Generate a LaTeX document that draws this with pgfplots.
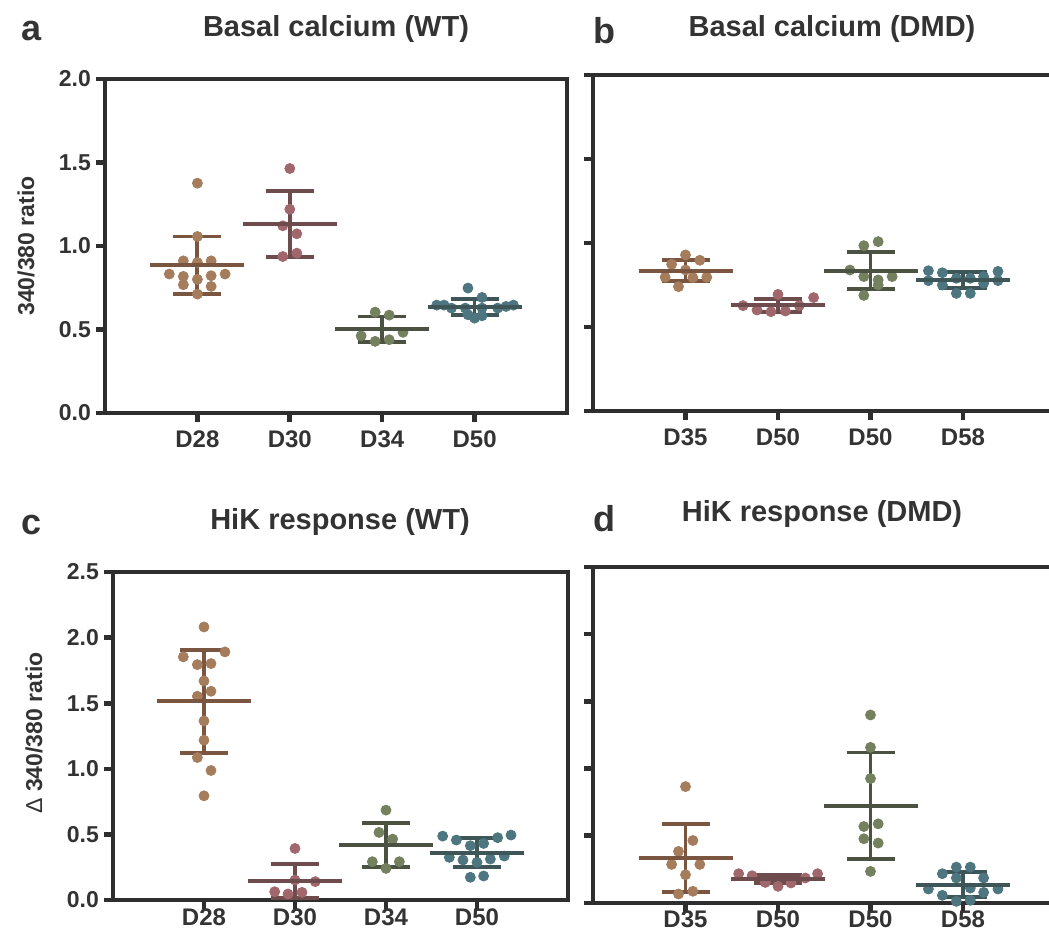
\documentclass[border=0pt]{standalone}
\usepackage{fontspec}
\setmainfont{Liberation Sans}
\usepackage{pgfplots}
\pgfplotsset{compat=1.18}
\definecolor{axc}{HTML}{2E2E2E}
\definecolor{txt}{HTML}{333333}
\definecolor{ptA}{HTML}{A57D5D}
\definecolor{lnA}{HTML}{7A5640}
\definecolor{ptB}{HTML}{A0686C}
\definecolor{lnB}{HTML}{6E4C4E}
\definecolor{ptC}{HTML}{75805F}
\definecolor{lnC}{HTML}{4B5242}
\definecolor{ptD}{HTML}{4E7680}
\definecolor{lnD}{HTML}{3E5658}

\pgfplotsset{
  panel/.style={scale only axis, anchor=south west, clip=false,
    xmin=0, xmax=5, ymin=0, xtick={1,2,3,4},
    axis line style={line width=2.3pt, draw=axc},
    major tick style={line width=2.3pt, draw=axc},
    major tick length=4.5pt, tick align=outside, tick pos=left,
    yticklabel style={font=\bfseries\fontsize{11.5}{13}\selectfont, text=txt, xshift=1pt},
    xticklabel style={font=\bfseries\fontsize{12}{14}\selectfont, text=txt, yshift=-1pt}},
  dots/.style={only marks, mark=*, mark size=2.5pt, color=#1,
    mark options={draw=#1, fill=#1}},
  msd/.style={only marks, mark=-, mark size=23.5pt, color=#1,
    mark options={line width=1.9pt, draw=#1},
    error bars/.cd, y dir=both, y explicit,
    error bar style={line width=1.9pt, draw=#1},
    error mark options={rotate=90, mark size=12pt, line width=1.9pt, draw=#1}},
}

\begin{document}
\begin{tikzpicture}
\useasboundingbox (0,0) rectangle (524.5pt,468.5pt);
\clip (0,0) rectangle (524.5pt,468.5pt);

% a: basal calcium, WT
\begin{axis}[panel, at={(52.5pt,262pt)}, width=231pt, height=167pt,
    ymax=2, ytick={0,0.5,1,1.5,2}, yticklabels={0.0,0.5,1.0,1.5,2.0},
    xticklabels={D28,D30,D34,D50}]
  \addplot[dots=ptA] coordinates {(1,1.376) (1,1.057) (0.848,0.911) (1,0.901) (1.149,0.911)
    (0.696,0.832) (1.30,0.832) (0.848,0.818) (1.149,0.822) (1,0.80) (0.848,0.768)
    (1.149,0.758) (1,0.712)};
  \addplot[dots=ptB] coordinates {(2,1.464) (2,1.22) (1.924,1.121) (2.076,1.073)
    (2.076,0.957) (1.924,0.937)};
  \addplot[dots=ptC] coordinates {(2.924,0.604) (3.076,0.586) (2.772,0.462) (3.225,0.483)
    (2.924,0.429) (3.076,0.439)};
  \addplot[dots=ptD] coordinates {(3.928,0.748) (4.08,0.692) (3.59,0.646) (3.67,0.646)
    (3.75,0.628) (3.90,0.628) (4.08,0.628) (4.25,0.628) (4.34,0.638) (4.42,0.646)
    (3.93,0.588) (4.08,0.582) (4,0.568)};
  \addplot[msd=lnA] coordinates {(1,0.885) +- (0,0.172)};
  \addplot[msd=lnB] coordinates {(2,1.131) +- (0,0.196)};
  \addplot[msd=lnC] coordinates {(3,0.502) +- (0,0.076)};
  \addplot[msd=lnD] coordinates {(4,0.634) +- (0,0.047)};
\end{axis}

% b: basal calcium, DMD
\begin{axis}[panel, at={(296.5pt,263pt)}, width=231.25pt, height=168pt,
    ymax=2, ytick={0,0.5,1,1.5,2}, yticklabels={},
    xticklabels={D35,D50,D50,D58}]
  \addplot[dots=ptA] coordinates {(1,0.929) (0.85,0.873) (1.155,0.897) (1,0.839)
    (0.78,0.796) (1.08,0.794) (1.23,0.796) (0.924,0.740)};
  \addplot[dots=ptB] coordinates {(2,0.694) (2.385,0.675) (1.622,0.627) (1.773,0.601)
    (1.924,0.591) (2.08,0.595) (2.23,0.627)};
  \addplot[dots=ptC] coordinates {(3.083,1.008) (2.928,0.984) (2.777,0.839) (2.928,0.800)
    (3.083,0.780) (3.234,0.800) (3.083,0.750) (2.928,0.688)};
  \addplot[dots=ptD] coordinates {(3.626,0.835) (3.777,0.823) (4.378,0.831) (3.626,0.776)
    (3.928,0.790) (4.079,0.790) (4.223,0.800) (4.378,0.776) (3.777,0.750)
    (3.928,0.700) (4.079,0.700) (4.223,0.760)};
  \addplot[msd=lnA] coordinates {(1,0.835) +- (0,0.062)};
  \addplot[msd=lnB] coordinates {(2,0.629) +- (0,0.039)};
  \addplot[msd=lnC] coordinates {(3,0.835) +- (0,0.110)};
  \addplot[msd=lnD] coordinates {(4,0.778) +- (0,0.047)};
\end{axis}

% c: HiK response, WT
\begin{axis}[panel, at={(56.5pt,18.5pt)}, width=227.5pt, height=164pt,
    ymax=2.5, ytick={0,0.5,1,1.5,2,2.5}, yticklabels={0.0,0.5,1.0,1.5,2.0,2.5},
    xticklabels={D28,D30,D34,D50}, xticklabel style={yshift=4.5pt}]
  \addplot[dots=ptA] coordinates {(1,2.081) (1.23,1.891) (0.773,1.853) (0.927,1.794)
    (1.077,1.802) (1,1.670) (0.927,1.553) (1.077,1.591) (1,1.365) (1,1.218)
    (0.927,1.086) (1.077,0.987) (1,0.794)};
  \addplot[dots=ptB] coordinates {(2,0.393) (2,0.152) (2.223,0.140) (1.777,0.063)
    (1.923,0.046) (2.077,0.058)};
  \addplot[dots=ptC] coordinates {(3,0.685) (2.923,0.515) (3.073,0.464) (2.85,0.292)
    (3.147,0.292) (3,0.241)};
  \addplot[dots=ptD] coordinates {(3.623,0.487) (4.374,0.495) (3.773,0.457) (4.227,0.475)
    (3.927,0.414) (4.073,0.431) (3.696,0.325) (3.846,0.305) (4,0.287) (4.147,0.312)
    (4.30,0.335) (3.927,0.173) (4.073,0.183)};
  \addplot[msd=lnA] coordinates {(1,1.515) +- (0,0.392)};
  \addplot[msd=lnB] coordinates {(2,0.145) +- (0,0.130)};
  \addplot[msd=lnC] coordinates {(3,0.419) +- (0,0.170)};
  \addplot[msd=lnD] coordinates {(4,0.360) +- (0,0.110)};
\end{axis}

% d: HiK response, DMD
\begin{axis}[panel, at={(296.5pt,17pt)}, width=231.25pt, height=168pt,
    ymax=2.5, ytick={0,0.5,1,1.5,2,2.5}, yticklabels={},
    xticklabels={D35,D50,D50,D58}, xticklabel style={yshift=5pt}]
  \addplot[dots=ptA] coordinates {(1,0.866) (1.08,0.465) (0.924,0.384) (0.85,0.287)
    (1.155,0.287) (1,0.210) (0.924,0.067) (1.08,0.087)};
  \addplot[dots=ptB] coordinates {(1.575,0.218) (1.72,0.203) (2.428,0.218) (2.295,0.186)
    (1.863,0.153) (2,0.124) (2.14,0.149)};
  \addplot[dots=ptC] coordinates {(3,1.399) (3,1.158) (3,0.926) (2.928,0.569) (3.083,0.589)
    (2.928,0.478) (3.083,0.446) (3,0.235)};
  \addplot[dots=ptD] coordinates {(3.928,0.267) (4.079,0.267) (3.777,0.218) (4.223,0.186)
    (3.928,0.186) (4.079,0.111) (3.626,0.104) (4.378,0.104) (4.223,0.079)
    (3.777,0.057) (3.928,0.012) (4.079,0.020)};
  \addplot[msd=lnA] coordinates {(1,0.334) +- (0,0.254)};
  \addplot[msd=lnB] coordinates {(2,0.178) +- (0,0.031)};
  \addplot[msd=lnC] coordinates {(3,0.723) +- (0,0.397)};
  \addplot[msd=lnD] coordinates {(4,0.136) +- (0,0.092)};
\end{axis}

% titles, panel letters, y labels
\begin{scope}[every node/.style={text=txt, font=\bfseries}]
  \node[font=\bfseries\fontsize{14.5}{16}\selectfont] at (168pt,454pt) {Basal calcium (WT)};
  \node[font=\bfseries\fontsize{14.5}{16}\selectfont] at (416pt,454pt) {Basal calcium (DMD)};
  \node[font=\bfseries\fontsize{14.5}{16}\selectfont] at (170pt,207.5pt) {HiK response (WT)};
  \node[font=\bfseries\fontsize{14.5}{16}\selectfont] at (411pt,211.5pt) {HiK response (DMD)};
  \node[font=\bfseries\fontsize{18}{20}\selectfont] at (16pt,453pt) {a};
  \node[font=\bfseries\fontsize{18}{20}\selectfont] at (302pt,453pt) {b};
  \node[font=\bfseries\fontsize{18}{20}\selectfont] at (16pt,206pt) {c};
  \node[font=\bfseries\fontsize{18}{20}\selectfont] at (302pt,209pt) {d};
  \node[rotate=90, font=\bfseries\fontsize{11.5}{13}\selectfont] at (13pt,345.5pt) {340/380 ratio};
  \node[rotate=90, font=\bfseries\fontsize{11.5}{13}\selectfont] at (17pt,102pt) {{\mdseries Δ} 340/380 ratio};
\end{scope}
\end{tikzpicture}
\end{document}
